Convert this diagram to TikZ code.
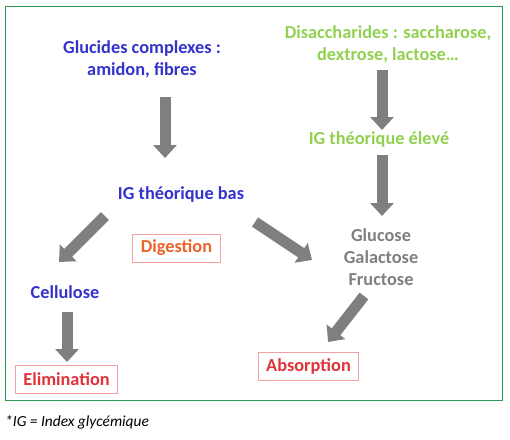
\documentclass[tikz,border=0pt]{standalone}
\usepackage{fontspec}
\setmainfont{Carlito}
\usetikzlibrary{arrows.meta}
\definecolor{cblue}{HTML}{3333CC}
\definecolor{cgreen}{HTML}{92D050}
\definecolor{cgray}{HTML}{7F7F7F}
\definecolor{ctxtgray}{HTML}{7F7F7F}
\definecolor{corange}{HTML}{E8642A}
\definecolor{cred}{HTML}{E0333A}
\definecolor{cboxline}{HTML}{F2A0A0}
\definecolor{cframe}{HTML}{2E9A5A}
\tikzset{
  lbl/.style={font=\fontsize{18.3}{22}\selectfont\bfseries, align=center, inner sep=0pt},
  boxlbl/.style={lbl, draw=cboxline, line width=1pt, inner xsep=8pt, inner ysep=4pt, minimum height=28pt},
  bigarrow/.style={draw=cgray, line width=11pt, -{Triangle[width=23pt,length=13pt]}, fill=cgray},
}
\begin{document}
\begin{tikzpicture}[x=1pt,y=-1pt]
\useasboundingbox (0,0) rectangle (510,439);
\draw[cframe, line width=1pt] (5.5,6) rectangle (502,400);

\node[lbl, text=cblue] (gc) at (142,59) {Glucides complexes :\\amidon, fibres};
\node[lbl, text=cgreen] (dis) at (388,44) {Disaccharides : saccharose,\\dextrose, lactose…};
\node[lbl, text=cgreen] (igel) at (379,140) {IG théorique élevé};
\node[lbl, text=cblue] (igbas) at (181,195) {IG théorique bas};
\node[lbl, text=ctxtgray] (glu) at (381,257) {Glucose\\Galactose\\Fructose};
\node[boxlbl, text=corange] (dig) at (176.5,248) {Digestion};
\node[lbl, text=cblue] (cel) at (65,292) {Cellulose};
\node[boxlbl, text=cred] (elim) at (66.5,379) {Elimination};
\node[boxlbl, text=cred] (abs) at (308.5,366) {Absorption};
\node[anchor=west, inner sep=0pt, font=\fontsize{15.4}{17}\selectfont\itshape] (foot) at (5,422) {*IG = Index glycémique};

\coordinate (a1s) at (165,97);  \coordinate (a1e) at (165,158);
\coordinate (a2s) at (382,70);  \coordinate (a2e) at (382,130);
\coordinate (a3s) at (382,155); \coordinate (a3e) at (382,216);
\coordinate (a4s) at (105,216); \coordinate (a4e) at (59,262);
\coordinate (a5s) at (255,222); \coordinate (a5e) at (312,260);
\coordinate (a6s) at (67,312);  \coordinate (a6e) at (67,362);
\coordinate (a7s) at (364,296); \coordinate (a7e) at (328,342);

\foreach \s/\e in {a1s/a1e,a2s/a2e,a3s/a3e,a4s/a4e,a5s/a5e,a6s/a6e,a7s/a7e}
  \draw[bigarrow] (\s) -- (\e);
\end{tikzpicture}
\end{document}
